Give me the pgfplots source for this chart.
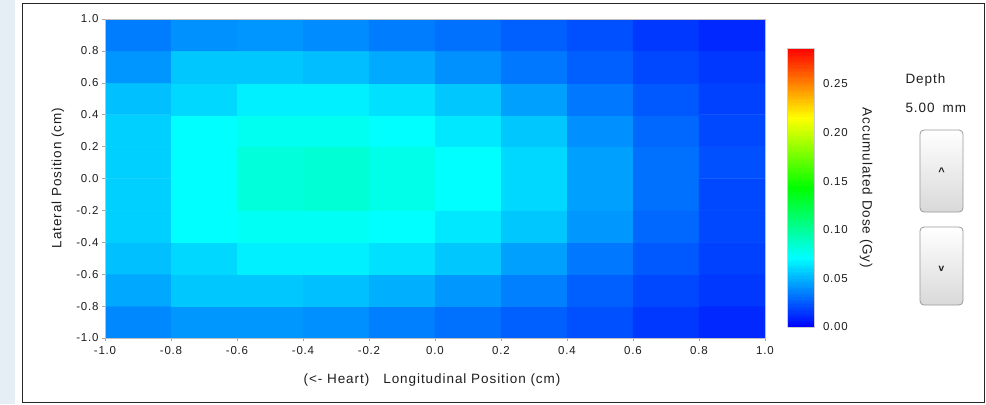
\documentclass[border=0pt]{standalone}
\usepackage{fontspec}
\setmainfont{Liberation Sans}[LetterSpace=7]
\usepackage{pgfplots}
\pgfplotsset{compat=1.18}
\definecolor{strip}{HTML}{E6EEF5}
\definecolor{txt}{HTML}{1E1E1E}
\pgfplotstableread{
x y c
-0.9 -0.9 0.0383
-0.7 -0.9 0.0428
-0.5 -0.9 0.0428
-0.3 -0.9 0.0405
-0.1 -0.9 0.0360
0.1 -0.9 0.0315
0.3 -0.9 0.0270
0.5 -0.9 0.0225
0.7 -0.9 0.0158
0.9 -0.9 0.0113
-0.9 -0.7 0.0473
-0.7 -0.7 0.0563
-0.5 -0.7 0.0563
-0.3 -0.7 0.0540
-0.1 -0.7 0.0496
0.1 -0.7 0.0428
0.3 -0.7 0.0360
0.5 -0.7 0.0270
0.7 -0.7 0.0203
0.9 -0.7 0.0158
-0.9 -0.5 0.0540
-0.7 -0.5 0.0608
-0.5 -0.5 0.0676
-0.3 -0.5 0.0676
-0.1 -0.5 0.0631
0.1 -0.5 0.0563
0.3 -0.5 0.0450
0.5 -0.5 0.0338
0.7 -0.5 0.0248
0.9 -0.5 0.0180
-0.9 -0.3 0.0586
-0.7 -0.3 0.0718
-0.5 -0.3 0.0746
-0.3 -0.3 0.0746
-0.1 -0.3 0.0718
0.1 -0.3 0.0653
0.3 -0.3 0.0563
0.5 -0.3 0.0428
0.7 -0.3 0.0293
0.9 -0.3 0.0203
-0.9 -0.1 0.0586
-0.7 -0.1 0.0718
-0.5 -0.1 0.0822
-0.3 -0.1 0.0836
-0.1 -0.1 0.0783
0.1 -0.1 0.0718
0.3 -0.1 0.0608
0.5 -0.1 0.0450
0.7 -0.1 0.0315
0.9 -0.1 0.0203
-0.9 0.1 0.0586
-0.7 0.1 0.0718
-0.5 0.1 0.0822
-0.3 0.1 0.0836
-0.1 0.1 0.0783
0.1 0.1 0.0718
0.3 0.1 0.0608
0.5 0.1 0.0450
0.7 0.1 0.0315
0.9 0.1 0.0225
-0.9 0.3 0.0586
-0.7 0.3 0.0718
-0.5 0.3 0.0760
-0.3 0.3 0.0760
-0.1 0.3 0.0718
0.1 0.3 0.0653
0.3 0.3 0.0563
0.5 0.3 0.0405
0.7 0.3 0.0293
0.9 0.3 0.0203
-0.9 0.5 0.0540
-0.7 0.5 0.0608
-0.5 0.5 0.0676
-0.3 0.5 0.0676
-0.1 0.5 0.0631
0.1 0.5 0.0563
0.3 0.5 0.0450
0.5 0.5 0.0338
0.7 0.5 0.0248
0.9 0.5 0.0180
-0.9 0.7 0.0422
-0.7 0.7 0.0563
-0.5 0.7 0.0563
-0.3 0.7 0.0535
-0.1 0.7 0.0479
0.1 0.7 0.0408
0.3 0.7 0.0338
0.5 0.7 0.0270
0.7 0.7 0.0203
0.9 0.7 0.0158
-0.9 0.9 0.0352
-0.7 0.9 0.0408
-0.5 0.9 0.0422
-0.3 0.9 0.0394
-0.1 0.9 0.0352
0.1 0.9 0.0315
0.3 0.9 0.0270
0.5 0.9 0.0225
0.7 0.9 0.0158
0.9 0.9 0.0113
}\dosetable
\begin{document}
\begin{tikzpicture}[x=1bp,y=1bp]
\useasboundingbox (0,0) rectangle (986,-404);
\fill[white] (0,0) rectangle (986,-404);
\fill[strip] (0,0) rectangle (15,-404);
\draw[black!85,line width=1bp] (22,-3) rectangle (984,-402);
\begin{axis}[
  at={(105bp,-338bp)}, anchor=south west,
  scale only axis, width=660bp, height=319bp,
  xmin=-1, xmax=1, ymin=-1, ymax=1,
  enlargelimits=false, axis on top,
  xtick={-1,-0.8,-0.6,-0.4,-0.2,0,0.2,0.4,0.6,0.8,1},
  ytick={-1,-0.8,-0.6,-0.4,-0.2,0,0.2,0.4,0.6,0.8,1},
  xtick pos=bottom, ytick pos=left,
  tick align=outside, major tick length=3bp,
  tick style={black!35, line width=0.6bp},
  axis line style={black!25, line width=0.8bp},
  /pgf/number format/assume math mode=true,
  /pgf/number format/fixed,
  /pgf/number format/fixed zerofill,
  /pgf/number format/precision=1,
  ticklabel style={font=\fontsize{11.5bp}{13bp}\selectfont, text=txt},
  xticklabel style={yshift=-1.5bp},
  colormap={dose}{rgb255(0)=(0,0,255) rgb255(1)=(0,255,255) rgb255(2)=(0,255,0) rgb255(3)=(255,255,0) rgb255(4)=(255,0,0)},
  point meta min=0, point meta max=0.287,
  colorbar sampled,
  colorbar style={
    at={(parent axis.south east)}, anchor=south west,
    xshift=14bp, yshift=11bp,
    scale only axis, width=27bp, height=279bp,
    samples=120,
    ytick={0,0.05,0.1,0.15,0.2,0.25},
    major tick length=0pt,
    axis line style={black!20},
    /pgf/number format/assume math mode=true,
    /pgf/number format/fixed,
    /pgf/number format/fixed zerofill,
    /pgf/number format/precision=2,
    yticklabel style={font=\fontsize{11.5bp}{13bp}\selectfont, text=txt, xshift=5bp},
  },
]
\addplot[matrix plot*, mesh/cols=10, point meta=explicit] table[x=x, y=y, meta=c] {\dosetable};
\end{axis}
\begin{scope}[every node/.style={text=txt, font=\fontsize{13.5bp}{16bp}\selectfont}]
\node at (432,-380) {(<- Heart)\hspace{14bp}Longitudinal Position (cm)};
\node[rotate=90] at (58,-178) {Lateral Position (cm)};
\node[rotate=-90] at (866,-188) {Accumulated Dose (Gy)};
\node[anchor=west] at (902,-80) {Depth};
\node[anchor=west] at (902,-108) {5.00\hspace{8bp}mm};
\end{scope}
\shade[top color=white, bottom color=black!15, draw=black!40, rounded corners=4bp, line width=0.8bp] (920,-130) rectangle (963,-212);
\shade[top color=white, bottom color=black!15, draw=black!40, rounded corners=4bp, line width=0.8bp] (920,-227) rectangle (963,-305);
\node[text=txt, font=\bfseries\fontsize{11bp}{13bp}\selectfont] at (941.5,-172) {\textasciicircum};
\node[text=txt, font=\bfseries\fontsize{10bp}{12bp}\selectfont] at (941.5,-269) {v};
\end{tikzpicture}
\end{document}
